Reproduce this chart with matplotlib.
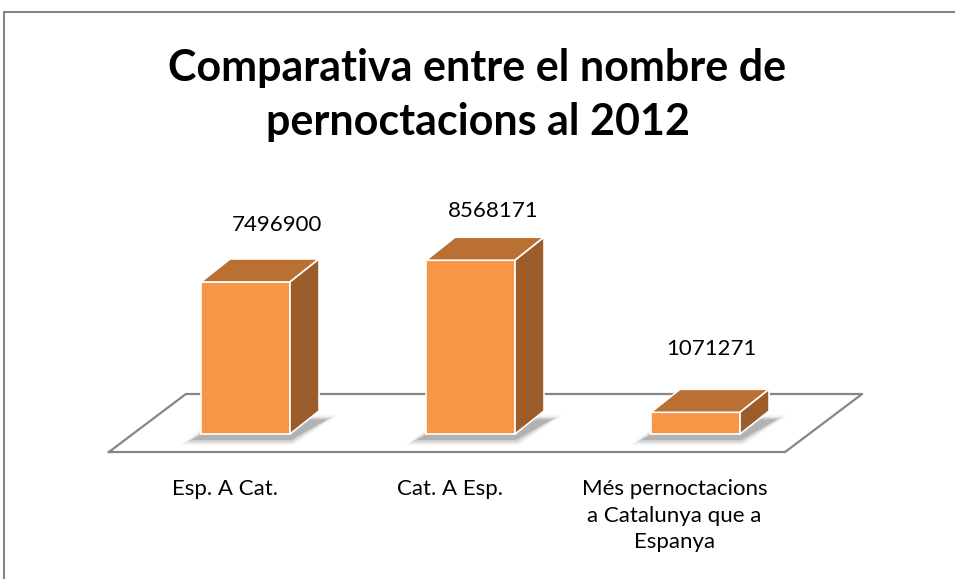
import numpy as np
import matplotlib
matplotlib.use('Agg')
import matplotlib.pyplot as plt
from matplotlib.lines import Line2D

# ------------------------------------------------------------
# Data
# ------------------------------------------------------------
categories = ['Esp. A Cat.', 'Cat. A Esp.',
              'Més pernoctacions\na Catalunya que a\nEspanya']
values = [7496900, 8568171, 1071271]
title = 'Comparativa entre el nombre de\npernoctacions al 2012'

# Excel-like colours
FRONT = '#F79646'
TOP = '#BA6F33'
SIDE = '#9D5D2B'
EDGE = '#868686'

# label nudges in px (Excel puts them a bit unevenly)
lab_dx = [31, 23, 16]
lab_dy = [34, 26, 40]

plt.rcParams['font.family'] = ['Lato', 'DejaVu Sans']

W, H = 955, 579
fig = plt.figure(figsize=(W / 100, H / 100), dpi=100)
ax = fig.add_axes([0, 0, 1, 1])

# axes limits: category units on x, values on y
xmin, xmax = -1.091, 3.153
ymin, ymax = -7.15e6, 2.14e7
ax.set_xlim(xmin, xmax)
ax.set_ylim(ymin, ymax)
ax.axis('off')

kx = W / (xmax - xmin)   # px per category
ky = H / (ymax - ymin)   # px per value unit

# 3D look: depth offsets
dx, dy = 29 / kx, 23 / ky
half = 44.5 / kx

# floor
f_front = -18 / ky
f_dx, f_dy = 77 / kx, 58 / ky
fl, fr = -0.607, 2.398
floor_x = [fl, fr, fr + f_dx, fl + f_dx, fl]
floor_y = [f_front, f_front, f_front + f_dy, f_front + f_dy, f_front]
ax.fill(floor_x, floor_y, color='white', zorder=1)
ax.plot(floor_x, floor_y, color=EDGE, lw=1.6, zorder=2)

for i, v in enumerate(values):
    x0, x1 = i - half, i + half
    # soft shadow around the base (layered to fake a blur)
    for g, a in [(12, 0.05), (8, 0.07), (5, 0.09), (2, 0.12)]:
        gx, gy = g / kx, g / ky
        sx = [x0 - 8 / kx - gx, x1 + gx * 0.3, x1 + dx + 6 / kx + gx,
              x0 + dx - gx, x0 - 8 / kx - gx]
        sy = [-5 / ky - gy * 0.5, -5 / ky - gy * 0.5, dy * 0.6 + gy * 0.4,
              dy * 0.6 + gy * 0.4, -5 / ky - gy * 0.5]
        ax.fill(sx, sy, color='black', alpha=a, lw=0, zorder=3)
    # front face
    ax.fill([x0, x1, x1, x0], [0, 0, v, v], color=FRONT,
            ec='white', lw=1.2, zorder=5)
    # top face
    ax.fill([x0, x1, x1 + dx, x0 + dx], [v, v, v + dy, v + dy], color=TOP,
            ec='white', lw=1.2, zorder=5)
    # side face
    ax.fill([x1, x1 + dx, x1 + dx, x1], [0, dy, v + dy, v], color=SIDE,
            ec='white', lw=1.2, zorder=5)
    # value label
    ax.text(i + lab_dx[i] / kx, v + dy + lab_dy[i] / ky, str(v),
            ha='center', va='center', fontsize=16, color='black', zorder=6)
    # category label
    ax.text(i - 21 / kx, f_front - 27 / ky, categories[i], ha='center',
            va='top', fontsize=16, color='black', linespacing=1.42, zorder=6)

# title
fig.text(0.5, 1 - 95 / H, title, ha='center', va='center', fontsize=31,
         fontweight='bold', linespacing=1.42)

# chart border (top and left visible)
fig.add_artist(Line2D([4 / W, 1], [1 - 12 / H, 1 - 12 / H],
                      transform=fig.transFigure, color=EDGE, lw=1.5))
fig.add_artist(Line2D([4 / W, 4 / W], [0, 1 - 12 / H],
                      transform=fig.transFigure, color=EDGE, lw=1.5))

fig.savefig('out.png', dpi=100, facecolor='white')
